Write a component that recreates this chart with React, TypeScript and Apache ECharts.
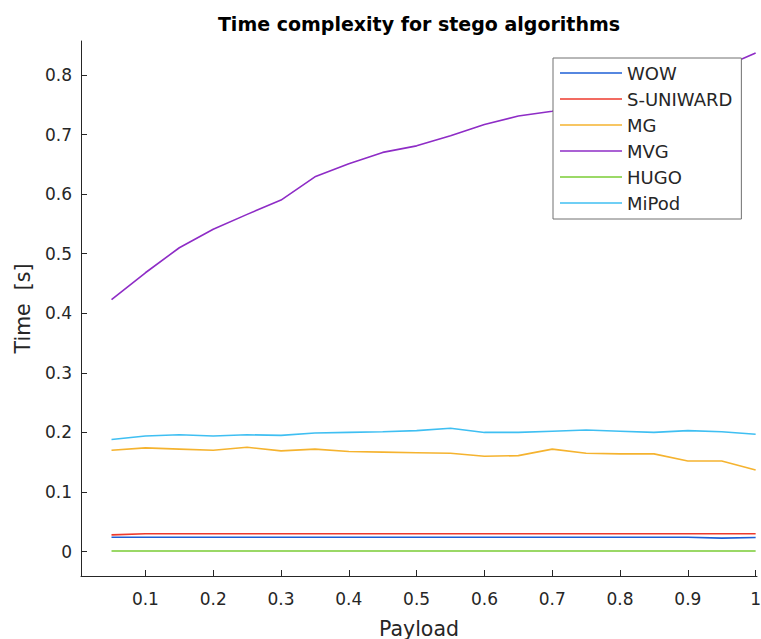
import React, { useEffect, useRef } from "react";
import * as echarts from "echarts";

const payload = [0.05, 0.1, 0.15, 0.2, 0.25, 0.3, 0.35, 0.4, 0.45, 0.5, 0.55, 0.6, 0.65, 0.7, 0.75, 0.8, 0.85, 0.9, 0.95, 1.0];

const wow = [0.024, 0.024, 0.024, 0.024, 0.024, 0.024, 0.024, 0.024, 0.024, 0.024, 0.024, 0.024, 0.024, 0.024, 0.024, 0.024, 0.024, 0.024, 0.0225, 0.0235];
const suniward = [0.028, 0.030, 0.030, 0.030, 0.030, 0.030, 0.030, 0.030, 0.030, 0.030, 0.030, 0.030, 0.030, 0.030, 0.030, 0.030, 0.030, 0.030, 0.030, 0.030];
const mg = [0.170, 0.174, 0.172, 0.170, 0.175, 0.169, 0.172, 0.168, 0.167, 0.166, 0.165, 0.160, 0.161, 0.172, 0.165, 0.164, 0.164, 0.152, 0.152, 0.137];
const mvg = [0.423, 0.468, 0.510, 0.541, 0.566, 0.590, 0.629, 0.651, 0.670, 0.681, 0.698, 0.717, 0.731, 0.739, 0.755, 0.770, 0.785, 0.800, 0.812, 0.837];
const hugo = [0.001, 0.001, 0.001, 0.001, 0.001, 0.001, 0.001, 0.001, 0.001, 0.001, 0.001, 0.001, 0.001, 0.001, 0.001, 0.001, 0.001, 0.001, 0.001, 0.001];
const mipod = [0.188, 0.194, 0.196, 0.194, 0.196, 0.195, 0.199, 0.200, 0.201, 0.203, 0.207, 0.200, 0.200, 0.202, 0.204, 0.202, 0.200, 0.203, 0.201, 0.197];

const xTicks = [0.1, 0.2, 0.3, 0.4, 0.5, 0.6, 0.7, 0.8, 0.9, 1];
const yTicks = [0, 0.1, 0.2, 0.3, 0.4, 0.5, 0.6, 0.7, 0.8];

const seriesNames = ["WOW", "S-UNIWARD", "MG", "MVG", "HUGO", "MiPod"];
const seriesColors = ["#1E5FD6", "#EE3A2C", "#F5B32F", "#8E2CC6", "#7ACC34", "#3FBFF2"];
const seriesData = [wow, suniward, mg, mvg, hugo, mipod];

const FONT = "DejaVu Sans";
const TXT = "#262626";

export default function App() {
  const ref = useRef<HTMLDivElement>(null);
  useEffect(() => {
    if (!ref.current) return;
    const chart = echarts.init(ref.current, undefined, { renderer: "svg" });
    chart.setOption({
      animation: false,
      backgroundColor: "#ffffff",
      textStyle: { fontFamily: FONT },
      graphic: [
        {
          type: "text",
          x: 419,
          y: 24,
          style: {
            text: "Time complexity for stego algorithms",
            align: "center",
            verticalAlign: "middle",
            font: "bold 19px 'DejaVu Sans'",
            fill: "#000000",
          },
        },
      ],
      grid: { left: 81, right: 4, top: 41, bottom: 63, containLabel: false, outerBoundsMode: "none" },
      legend: {
        orient: "vertical",
        left: 553,
        top: 58,
        padding: [6, 9, 7, 7],
        itemWidth: 62,
        itemHeight: 14,
        itemGap: 8,
        icon: "path://M0,0 L62,0 L62,1.6 L0,1.6 Z",
        symbolKeepAspect: true,
        backgroundColor: "#ffffff",
        borderColor: "#707070",
        borderWidth: 1,
        textStyle: { fontFamily: FONT, fontSize: 18, color: TXT },
        data: seriesNames,
      },
      xAxis: {
        type: "value",
        min: 0.005,
        max: 1.002,
        name: "Payload",
        nameLocation: "middle",
        nameGap: 42,
        nameTextStyle: { fontFamily: FONT, fontSize: 20.5, color: TXT },
        axisLine: { onZero: false, lineStyle: { color: TXT, width: 1 } },
        axisTick: { inside: true, length: 6, customValues: xTicks, lineStyle: { color: TXT } },
        axisLabel: { customValues: xTicks, fontFamily: FONT, fontSize: 17, color: TXT, margin: 14 },
        splitLine: { show: false },
      },
      yAxis: {
        type: "value",
        min: -0.041,
        max: 0.857,
        name: "Time  [s]",
        nameLocation: "middle",
        nameGap: 48,
        nameTextStyle: { fontFamily: FONT, fontSize: 20.5, color: TXT },
        axisLine: { show: true, onZero: false, lineStyle: { color: TXT, width: 1 } },
        axisTick: { show: true, inside: true, length: 6, customValues: yTicks, lineStyle: { color: TXT } },
        axisLabel: { customValues: yTicks, fontFamily: FONT, fontSize: 17, color: TXT, margin: 9 },
        splitLine: { show: false },
      },
      series: seriesNames.map((name, i) => ({
        name,
        type: "line",
        symbol: "none",
        color: seriesColors[i],
        lineStyle: { width: 1.6, color: seriesColors[i] },
        data: payload.map((x, j) => [x, seriesData[i][j]]),
        z: 2,
      })),
    });
    return () => chart.dispose();
  }, []);
  return <div ref={ref} style={{ width: 761, height: 639, position: "absolute", left: 0, top: 0 }} />;
}
